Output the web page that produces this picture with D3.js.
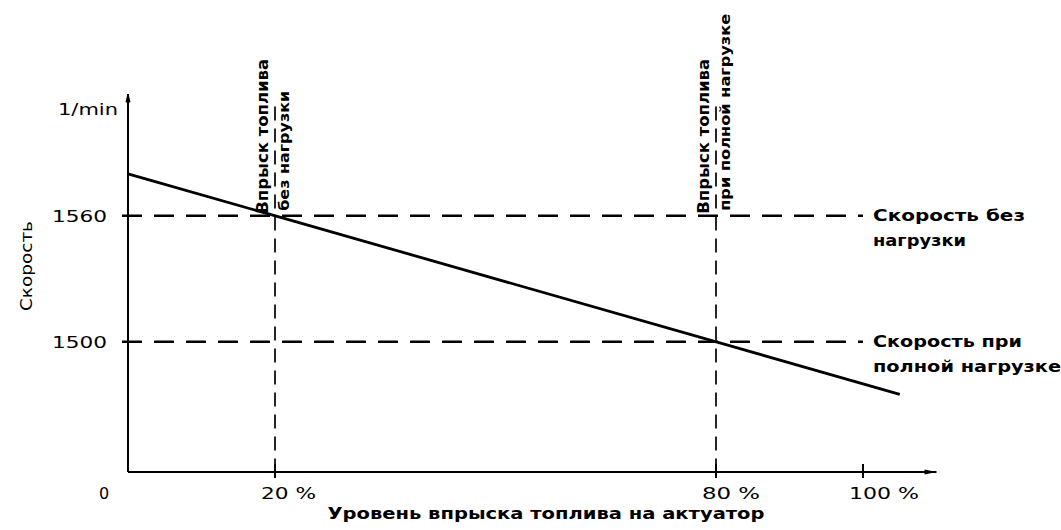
<!DOCTYPE html>
<html><head><meta charset="utf-8">
<script src="https://cdn.jsdelivr.net/npm/d3@7"></script>
<style>body{margin:0;background:#fff}svg{display:block}text{font-family:"DejaVu Sans",sans-serif;fill:#000}</style>
</head><body>
<svg id="c" width="1061" height="530"></svg>
<script>
// Data
const speedLine = [{pct:0, rpm:1580},{pct:105, rpm:1475}];
const refSpeeds = [1560, 1500];
const refSpeedLabels = [["Скорость без","нагрузки"],["Скорость при","полной нагрузке"]];
const refInjections = [20, 80];
const refInjLabels = [["Впрыск топлива","без нагрузки"],["Впрыск топлива","при полной нагрузке"]];
const xTicks = [20, 80, 100];
const xTickLabels = ["20 %","80 %","100 %"];
const yTicks = [1560, 1500];
const yTickLabels = ["1560","1500"];

const svg = d3.select("#c");
const x = d3.scaleLinear().domain([0,110]).range([128,936.5]);
const y = d3.scaleLinear().domain([1438,1618]).range([472,94]);
const x0 = x(0), yb = y(1438);

const speedLabelW = [[152,93],[149,188]];
const injLabelW = [[155,120],[155,197]];
const xTickW = [55,58,70];

// reference dashed lines (horizontal)
svg.selectAll("line.h").data(refSpeeds).join("line")
  .attr("x1",x0-6).attr("x2",x(100)).attr("y1",d=>y(d)).attr("y2",d=>y(d))
  .attr("stroke","#000").attr("stroke-width",2.4).attr("stroke-dasharray","20,12");
// vertical dashed lines
svg.selectAll("line.v").data(refInjections).join("line")
  .attr("x1",d=>x(d)).attr("x2",d=>x(d)).attr("y1",y(1612)).attr("y2",yb+6)
  .attr("stroke","#000").attr("stroke-width",1.7).attr("stroke-dasharray","14,8");

// axes
svg.append("line").attr("x1",x0).attr("x2",x0).attr("y1",y(1618)).attr("y2",yb)
  .attr("stroke","#000").attr("stroke-width",2);
svg.append("line").attr("x1",x0).attr("x2",x(110)).attr("y1",yb).attr("y2",yb)
  .attr("stroke","#000").attr("stroke-width",2);
svg.append("path").attr("d",`M${x0-2},${y(1618)+8}L${x0},${y(1618)}L${x0+2},${y(1618)+8}Z`).attr("fill","#000").attr("stroke","#000");
svg.append("path").attr("d",`M${x(110)-12},${yb-2.5}L${x(110)},${yb}L${x(110)-12},${yb+2.5}Z`).attr("fill","#000");

// x ticks
svg.selectAll("line.xt").data(xTicks).join("line")
  .attr("x1",d=>x(d)).attr("x2",d=>x(d)).attr("y1",yb-8).attr("y2",yb+6)
  .attr("stroke","#000").attr("stroke-width",2);
svg.selectAll("text.xt").data(xTicks).join("text")
  .attr("x",d=>x(d)-14).attr("y",yb+27)
  .attr("font-size",16).attr("textLength",(d,i)=>xTickW[i]).attr("lengthAdjust","spacingAndGlyphs")
  .text((d,i)=>xTickLabels[i]);
svg.append("text").attr("x",x0-24).attr("y",yb+27).attr("text-anchor","middle").attr("font-size",16).text("0");

// y tick labels
svg.selectAll("text.yt").data(yTicks).join("text")
  .attr("x",x0-21).attr("y",d=>y(d)+6).attr("text-anchor","end")
  .attr("font-size",16).attr("textLength",55).attr("lengthAdjust","spacingAndGlyphs")
  .text((d,i)=>yTickLabels[i]);
svg.append("text").attr("x",x0-10).attr("y",y(1608)).attr("text-anchor","end")
  .attr("font-size",16).attr("textLength",60).attr("lengthAdjust","spacingAndGlyphs").text("1/min");

// main line
svg.append("path").datum(speedLine)
  .attr("d",d3.line().x(d=>x(d.pct)).y(d=>y(d.rpm)))
  .attr("fill","none").attr("stroke","#000").attr("stroke-width",2.8);

// right labels
refSpeeds.forEach((s,i)=>{
  const g = svg.append("g");
  g.append("text").attr("x",x(100)+10).attr("y",y(s)+5).attr("font-size",15).attr("font-weight","bold")
    .attr("textLength",speedLabelW[i][0]).attr("lengthAdjust","spacingAndGlyphs").text(refSpeedLabels[i][0]);
  g.append("text").attr("x",x(100)+10).attr("y",y(s)+30).attr("font-size",15).attr("font-weight","bold")
    .attr("textLength",speedLabelW[i][1]).attr("lengthAdjust","spacingAndGlyphs").text(refSpeedLabels[i][1]);
});

// vertical labels
refInjections.forEach((p,i)=>{
  const cx = x(p);
  svg.append("text").attr("transform",`translate(${cx-7},${y(1560)-2}) rotate(-90)`)
    .attr("font-size",15).attr("font-weight","bold")
    .attr("textLength",injLabelW[i][0]).attr("lengthAdjust","spacingAndGlyphs").text(refInjLabels[i][0]);
  svg.append("text").attr("transform",`translate(${cx+14},${y(1560)-5}) rotate(-90)`)
    .attr("font-size",14).attr("font-weight","bold")
    .attr("textLength",injLabelW[i][1]).attr("lengthAdjust","spacingAndGlyphs").text(refInjLabels[i][1]);
});

// axis titles
svg.append("text").attr("transform",`translate(32,266) rotate(-90)`)
  .attr("text-anchor","middle").attr("font-size",15)
  .attr("textLength",90).attr("lengthAdjust","spacingAndGlyphs").text("Скорость");
svg.append("text").attr("x",546).attr("y",519).attr("text-anchor","middle")
  .attr("font-size",15).attr("font-weight","bold")
  .attr("textLength",437).attr("lengthAdjust","spacingAndGlyphs").text("Уровень впрыска топлива на актуатор");
</script>
</body></html>
